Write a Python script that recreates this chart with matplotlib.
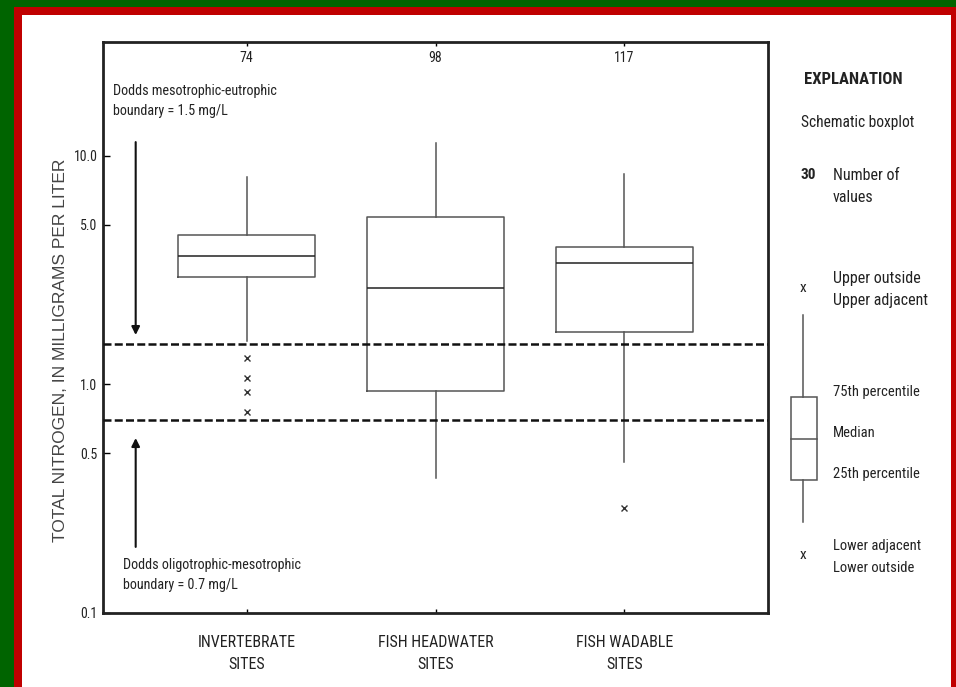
import numpy as np
import matplotlib
matplotlib.use("Agg")
import matplotlib.pyplot as plt
from matplotlib import font_manager as fm
from matplotlib.patches import Rectangle

# Сайти та кількість значень
sites = ["INVERTEBRATE\nSITES", "FISH HEADWATER\nSITES", "FISH WADABLE\nSITES"]
counts = [74, 98, 117]

# Статистики боксплотів (мг/л)
whislo = [1.55, 0.39, 0.46]
q1 = [2.95, 0.935, 1.69]
med = [3.64, 2.65, 3.41]
q3 = [4.53, 5.40, 4.01]
whishi = [8.07, 11.4, 8.30]
fliers = [[1.30, 1.07, 0.93, 0.757], [], [0.289]]

# Межі Доддса
upper_bound = 1.5
lower_bound = 0.7

yticks = [0.1, 0.5, 1.0, 5.0, 10.0]
ytick_labels = ["0.1", "0.5", "1.0", "5.0", "10.0"]

names = {f.name for f in fm.fontManager.ttflist}
cond = "DejaVu Sans"
for cand in ["Roboto Condensed", "Liberation Sans Narrow", "DejaVu Sans Condensed"]:
    if cand in names:
        cond = cand
        break

W, H = 956, 687
fig = plt.figure(figsize=(W / 100, H / 100), dpi=100, facecolor="#006400")

# Фон: червона рамка та біле поле
bg = fig.add_axes([0, 0, 1, 1], zorder=0)
bg.set_xlim(0, W)
bg.set_ylim(H, 0)
bg.axis("off")
bg.add_patch(Rectangle((14, 7), W, H, facecolor="#c00000", edgecolor="none"))
bg.add_patch(Rectangle((22, 15), 951 - 22, H, facecolor="white", edgecolor="none"))

ax = fig.add_axes([103 / W, (H - 613) / H, 665 / W, (613 - 41.7) / H], zorder=1)
ax.set_facecolor("none")
ax.set_yscale("log")
ax.set_ylim(0.1, 10 ** 1.5)
ax.set_xlim(0.24, 3.76)

stats = []
for i in range(3):
    stats.append(dict(whislo=whislo[i], q1=q1[i], med=med[i], q3=q3[i],
                      whishi=whishi[i], fliers=fliers[i]))
lc = "#555555"
ax.bxp(stats, positions=[1, 2, 3], widths=0.725, showcaps=False,
       boxprops=dict(color=lc, lw=1.1),
       medianprops=dict(color="#222222", lw=1.1),
       whiskerprops=dict(color=lc, lw=1.1),
       flierprops=dict(marker="x", markersize=4.5, markeredgecolor="#333333",
                       markeredgewidth=1.0, linestyle="none"))

for b in [upper_bound, lower_bound]:
    ax.axhline(b, color="#111111", lw=1.8, dashes=(3.2, 1.3), zorder=3)

tc = "#222222"
ax.set_yticks(yticks)
ax.set_yticklabels(ytick_labels)
ax.yaxis.set_minor_locator(matplotlib.ticker.NullLocator())
ax.tick_params(axis="y", direction="in", length=5, width=1, pad=4,
               labelsize=10, labelcolor=tc)
ax.set_xticks([1, 2, 3])
ax.set_xticklabels(sites, fontfamily=cond, linespacing=1.55)
ax.tick_params(axis="x", direction="in", length=3, width=1, pad=16,
               labelsize=11.5, labelcolor=tc, top=True)
for lab in ax.get_yticklabels():
    lab.set_fontfamily(cond)
for s in ax.spines.values():
    s.set_linewidth(2)
    s.set_color("#222222")

for i, c in enumerate(counts):
    ax.text(i + 1, 0.972, str(c), transform=ax.get_xaxis_transform(),
            ha="center", va="center", fontsize=10, color=tc, family=cond)

ax.set_ylabel("TOTAL NITROGEN, IN MILLIGRAMS PER LITER", fontsize=12.5,
              color="#444444", family="Liberation Sans")
ax.yaxis.set_label_coords(-0.052, 0.46)

# Підписи меж та стрілки
ax.text(0.293, 17.4, "Dodds mesotrophic-eutrophic\nboundary = 1.5 mg/L",
        ha="left", va="center", fontsize=10.2, color=tc, family=cond,
        linespacing=1.5)
ax.text(0.346, 0.1466, "Dodds oligotrophic-mesotrophic\nboundary = 0.7 mg/L",
        ha="left", va="center", fontsize=10.2, color=tc, family=cond,
        linespacing=1.5)
ax.annotate("", xy=(0.413, 1.646), xytext=(0.413, 11.5),
            arrowprops=dict(arrowstyle="-|>", color="#111111", lw=1.5,
                            mutation_scale=12, shrinkA=0, shrinkB=0))
ax.annotate("", xy=(0.413, 0.583), xytext=(0.413, 0.1946),
            arrowprops=dict(arrowstyle="-|>", color="#111111", lw=1.5,
                            mutation_scale=12, shrinkA=0, shrinkB=0))

# Пояснення (легенда)
kw = dict(family=cond, color=tc, fontsize=11.5, va="center", ha="left")
kw2 = {**kw, "fontsize": 10.5}
bg.text(853, 80, "EXPLANATION", ha="center", va="center", family=cond,
        color="#222222", fontsize=12, fontweight="bold", zorder=2)
bg.text(858, 122, "Schematic boxplot", **{**kw, "ha": "center", "fontsize": 11.2})
bg.text(808, 175, "30", **{**kw, "ha": "center", "fontsize": 11, "fontweight": "bold"})
bg.text(833, 175, "Number of", **kw)
bg.text(833, 197, "values", **kw)
bg.text(803, 288, "x", **{**kw, "ha": "center", "fontsize": 11})
bg.text(833, 278, "Upper outside", **kw)
bg.text(833, 300, "Upper adjacent", **kw)
bg.plot([803, 803], [315, 397], color=lc, lw=1.1)
bg.plot([803, 803], [480, 522], color=lc, lw=1.1)
bg.add_patch(Rectangle((791, 397), 26, 83, facecolor="none", edgecolor=lc, lw=1.1))
bg.plot([791, 817], [439, 439], color=lc, lw=1.1)
bg.text(833, 392, "75th percentile", **kw2)
bg.text(833, 433, "Median", **kw2)
bg.text(833, 474, "25th percentile", **kw2)
bg.text(803, 555, "x", **{**kw, "ha": "center", "fontsize": 11})
bg.text(833, 546, "Lower adjacent", **kw2)
bg.text(833, 568, "Lower outside", **kw2)

fig.savefig("out.png", dpi=100, facecolor=fig.get_facecolor())
